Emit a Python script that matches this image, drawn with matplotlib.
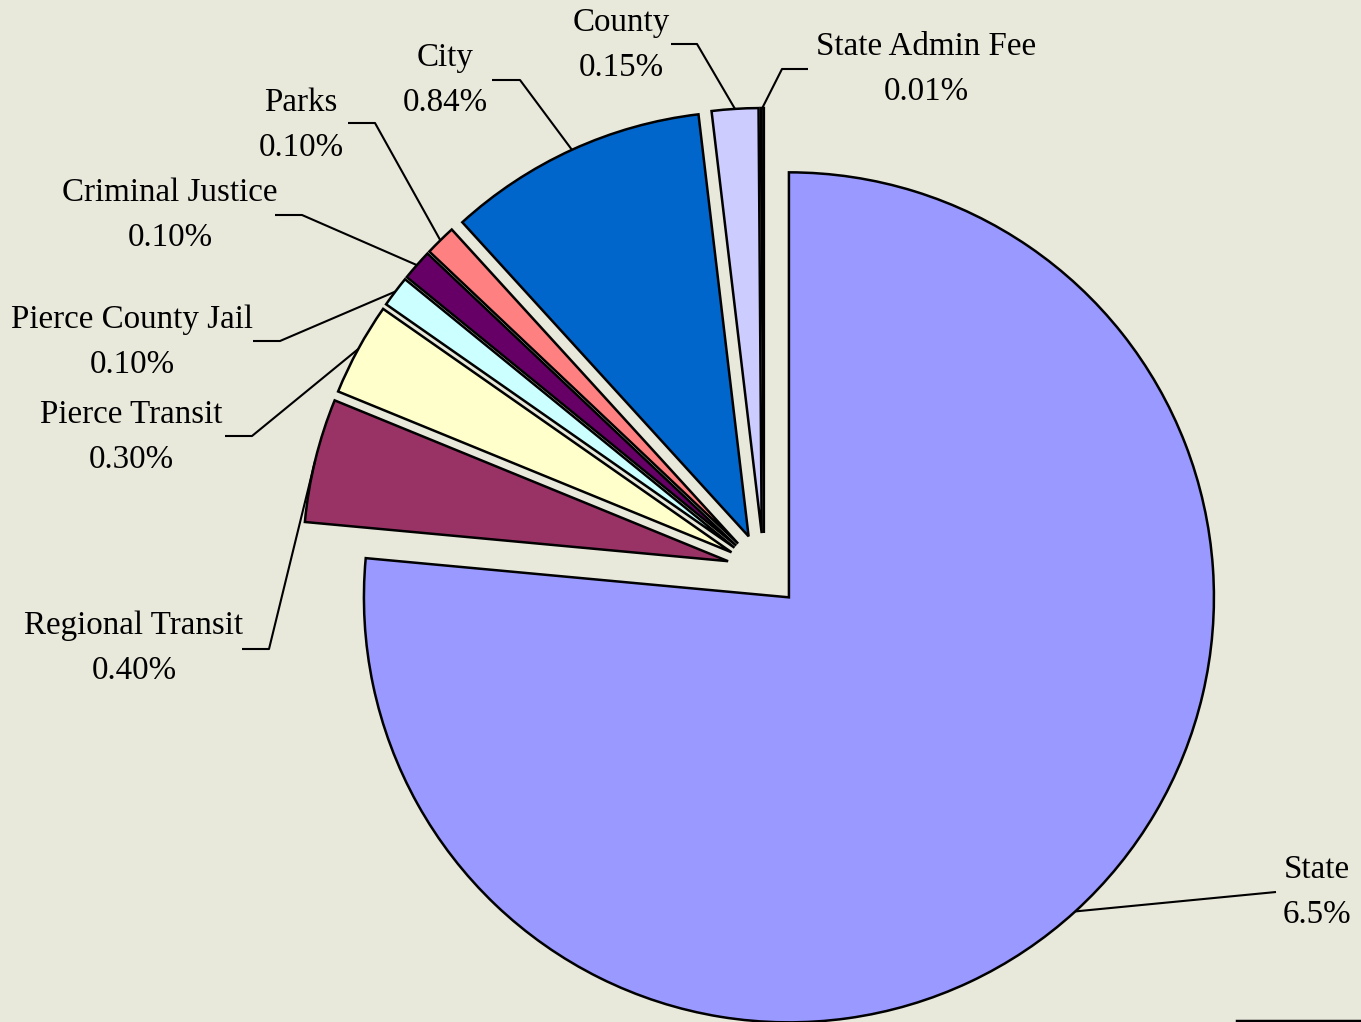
import numpy as np
import matplotlib
matplotlib.use("Agg")
import matplotlib.pyplot as plt

# ---- data ----
categories = ["State", "Regional Transit", "Pierce Transit", "Pierce County Jail",
              "Criminal Justice", "Parks", "City", "County", "State Admin Fee"]
rates = [6.5, 0.40, 0.30, 0.10, 0.10, 0.10, 0.84, 0.15, 0.01]
rate_labels = ["6.5%", "0.40%", "0.30%", "0.10%", "0.10%", "0.10%", "0.84%", "0.15%", "0.01%"]
colors = ["#9999FF", "#993366", "#FFFFCC", "#CCFFFF", "#660066",
          "#FF8080", "#0066CC", "#CCCCFF", "#1A1A1A"]

# ---- layout (pixel coordinates of the 1361x1022 canvas) ----
W, H = 1361, 1022
BG = "#E8E8DB"
center_px = (764, 570)
radius = 425
explode_dist = 37
# label block centres, leader elbow and tail points
label_pos = [(1317, 892), (134, 648), (131, 437), (132, 342), (170, 215),
             (301, 125), (445, 80), (621, 45), (926, 69)]
leader_pts = [
    [(1276, 892)],
    [(269, 649), (242, 649)],
    [(252, 436), (225, 436)],
    [(280, 341), (253, 341)],
    [(302, 215), (275, 215)],
    [(375, 123), (348, 123)],
    [(520, 80), (492, 80)],
    [(697, 44), (671, 44)],
    [(782, 69), (808, 69)],
]

fig = plt.figure(figsize=(W / 100, H / 100), dpi=100)
fig.patch.set_facecolor(BG)
ax = fig.add_axes([0, 0, 1, 1])
ax.set_facecolor(BG)

cx, cy = center_px[0], -center_px[1]
wedges, _ = ax.pie(rates, colors=colors, startangle=90, counterclock=False,
                   radius=radius, center=(cx, cy),
                   explode=[explode_dist] * len(rates),
                   wedgeprops=dict(edgecolor="black", linewidth=1.8))

ax.set_xlim(0, W)
ax.set_ylim(-H, 0)
ax.set_aspect("equal")
ax.axis("off")

font = dict(family=["Liberation Serif", "DejaVu Serif"], fontsize=23.8, color="black")

for w, cat, lab, (lx, ly), pts in zip(wedges, categories, rate_labels, label_pos, leader_pts):
    theta = np.deg2rad((w.theta1 + w.theta2) / 2)
    wx, wy = w.center
    ox = wx + radius * np.cos(theta)
    oy = wy + radius * np.sin(theta)
    xs = [ox] + [p[0] for p in pts]
    ys = [oy] + [-p[1] for p in pts]
    ax.plot(xs, ys, color="black", lw=1.5, solid_capstyle="butt", zorder=3)
    ax.text(lx, -ly, f"{cat}\n{lab}", ha="center", va="center",
            linespacing=1.62, **font)

# partially visible frame edge at bottom right
ax.plot([1237, W], [-1021, -1021], color="black", lw=2.5, zorder=3)

fig.savefig("out.png", dpi=100, facecolor=BG)
